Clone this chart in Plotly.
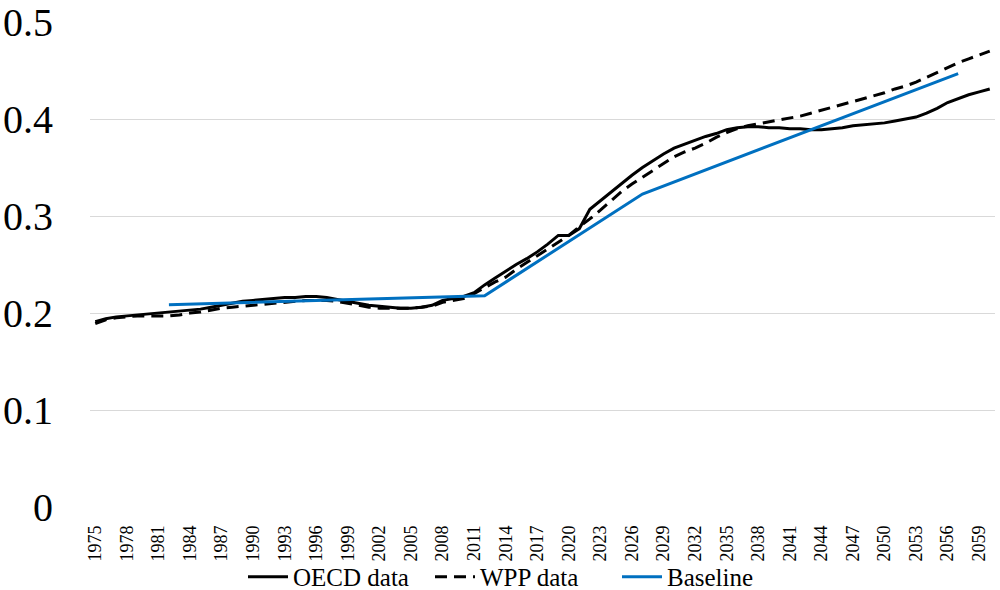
import plotly.graph_objects as go

years = list(range(1975, 2061))

oecd = [0.191, 0.194, 0.196, 0.197, 0.198, 0.199, 0.200, 0.201, 0.202, 0.203,
        0.204, 0.206, 0.208, 0.210, 0.212, 0.213, 0.214, 0.215, 0.216, 0.216,
        0.217, 0.217, 0.216, 0.214, 0.212, 0.210, 0.208, 0.207, 0.206, 0.205,
        0.205, 0.206, 0.208, 0.213, 0.215, 0.217, 0.221, 0.229, 0.236, 0.243,
        0.250, 0.256, 0.263, 0.271, 0.280, 0.280, 0.287, 0.307, 0.316, 0.325,
        0.334, 0.342, 0.350, 0.357, 0.364, 0.370, 0.374, 0.378, 0.382, 0.385,
        0.389, 0.391, 0.392, 0.392, 0.391, 0.391, 0.390, 0.390, 0.389, 0.389,
        0.390, 0.391, 0.393, 0.394, 0.395, 0.396, 0.398, 0.400, 0.402, 0.406,
        0.411, 0.417, 0.421, 0.425, 0.428, 0.431]

wpp = [0.189, 0.193, 0.195, 0.196, 0.197, 0.197, 0.197, 0.197, 0.198, 0.200,
       0.201, 0.203, 0.205, 0.206, 0.207, 0.208, 0.209, 0.210, 0.211, 0.212,
       0.213, 0.213, 0.213, 0.212, 0.210, 0.208, 0.206, 0.205, 0.205, 0.205,
       0.205, 0.206, 0.207, 0.211, 0.213, 0.215, 0.220, 0.226, 0.232, 0.237,
       0.245, 0.252, 0.259, 0.266, 0.273, 0.280, 0.289, 0.297, 0.306, 0.316,
       0.325, 0.333, 0.340, 0.347, 0.354, 0.361, 0.366, 0.370, 0.375, 0.381,
       0.386, 0.390, 0.393, 0.395, 0.397, 0.399, 0.401, 0.403, 0.406, 0.409,
       0.412, 0.415, 0.418, 0.421, 0.424, 0.427, 0.431, 0.434, 0.438, 0.443,
       0.448, 0.453, 0.458, 0.462, 0.466, 0.470]

baseline_years = [1982, 2012, 2027, 2057]
baseline = [0.2086, 0.2178, 0.3227, 0.4467]

x_tickvals = list(range(1975, 2060, 3))
x_ticktext = [str(v) for v in x_tickvals]
y_tickvals = [0, 0.1, 0.2, 0.3, 0.4, 0.5]
y_ticktext = ["0", "0.1", "0.2", "0.3", "0.4", "0.5"]

FONT = "Liberation Serif"

fig = go.Figure()
fig.add_trace(go.Scatter(x=years, y=oecd, mode="lines", name="OECD data",
                         line=dict(color="black", width=3)))
fig.add_trace(go.Scatter(x=years, y=wpp, mode="lines", name="WPP data",
                         line=dict(color="black", width=3, dash="12px,7px")))
fig.add_trace(go.Scatter(x=baseline_years, y=baseline, mode="lines", name="Baseline",
                         line=dict(color="#0070C0", width=3)))

fig.update_layout(
    width=1000, height=590,
    margin=dict(l=90, r=5, t=22, b=83, autoexpand=False),
    paper_bgcolor="white", plot_bgcolor="white",
    font=dict(family=FONT, color="black"),
    showlegend=True,
    legend=dict(orientation="h", xref="container", yref="paper",
                x=0.5235, xanchor="center", y=-0.1443, yanchor="middle",
                font=dict(size=25, family=FONT), itemwidth=40,
                entrywidth=132, entrywidthmode="pixels",
                tracegroupgap=0, bgcolor="rgba(0,0,0,0)"),
)
fig.update_xaxes(range=[1974.5, 2060.5], tickmode="array", tickvals=x_tickvals,
                 ticktext=x_ticktext, tickangle=-90, tickfont=dict(size=18, family=FONT),
                 showgrid=False, zeroline=False, showline=False, ticks="",
                 ticklabelstandoff=14, automargin=False)
fig.update_yaxes(range=[0, 0.5], tickmode="array", tickvals=y_tickvals,
                 ticktext=y_ticktext, tickfont=dict(size=40, family=FONT),
                 showgrid=True, gridcolor="#d9d9d9", gridwidth=1,
                 zeroline=False, showline=False, ticks="", ticklabelstandoff=36,
                 automargin=False)

fig.write_html("out.html", config={"displayModeBar": False},
               post_script="document.body.style.margin='0px';document.body.style.overflow='hidden';")
